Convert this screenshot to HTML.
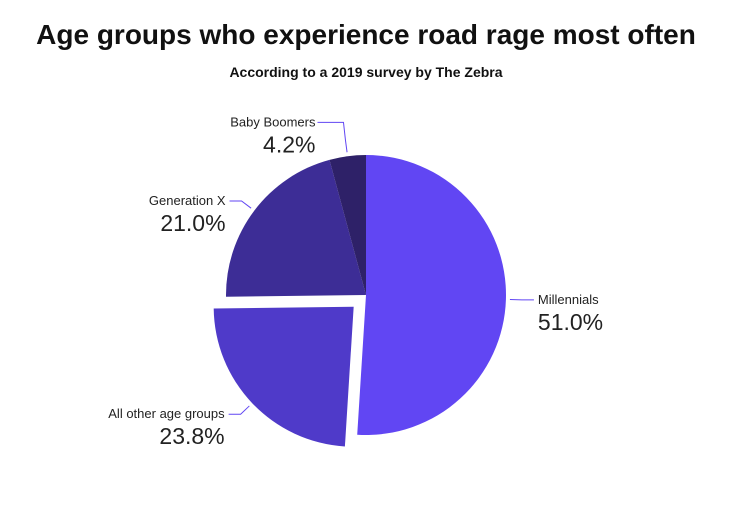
<!DOCTYPE html>
<html><head><meta charset="utf-8"><style>
body{margin:0;background:#fff;width:748px;height:508px;overflow:hidden;font-family:"Liberation Sans",sans-serif}
</style></head><body>
<svg width="748" height="508">
<text x="366" y="44" text-anchor="middle" font-size="28" font-weight="bold" fill="#111">Age groups who experience road rage most often</text>
<text x="366" y="77" text-anchor="middle" font-size="14" font-weight="bold" fill="#111">According to a 2019 survey by The Zebra</text>
<g id="pie"></g>
</svg>
<script>
const categories=["Millennials","All other age groups","Generation X","Baby Boomers"];
const values=[51.0,23.8,21.0,4.2];
const labels=["51.0%","23.8%","21.0%","4.2%"];
const colors=["#6146f3","#4f3ac9","#3d2d96","#2e2168"];
const exploded=[false,true,false,false];
const cx=366,cy=295,r=140,ex=17;
const g=document.getElementById('pie');
const ns="http://www.w3.org/2000/svg";
const total=values.reduce((a,b)=>a+b,0);
function pt(a,rad,ox,oy){return [ox+rad*Math.sin(a),oy-rad*Math.cos(a)];}
let start=0;
values.forEach((v,i)=>{
  const sweep=v/total*2*Math.PI, end=start+sweep, mid=start+sweep/2;
  let ox=cx,oy=cy;
  if(exploded[i]){ox+=ex*Math.sin(mid);oy-=ex*Math.cos(mid);}
  const p1=pt(start,r,ox,oy),p2=pt(end,r,ox,oy);
  const path=document.createElementNS(ns,'path');
  path.setAttribute('d',`M${ox},${oy}L${p1[0]},${p1[1]}A${r},${r} 0 ${sweep>Math.PI?1:0} 1 ${p2[0]},${p2[1]}Z`);
  path.setAttribute('fill',colors[i]);
  
  
  g.appendChild(path);
  // leader line
  const a=pt(mid,r+4,ox,oy), b=pt(mid,r+16,ox,oy);
  const right=Math.sin(mid)>=0;
  const c=[b[0]+(right?12:-12),b[1]];
  if(i===3){c[0]=b[0]-2;c[1]=b[1]-18;}
  const line=document.createElementNS(ns,'polyline');
  let pts=`${a[0]},${a[1]} ${b[0]},${b[1]} ${c[0]},${c[1]}`;
  let tx=c[0]+(right?4:-4), ty=c[1];
  if(i===3){pts+=` ${c[0]-26},${c[1]}`;tx=c[0]-28;}
  line.setAttribute('points',pts);
  line.setAttribute('fill','none');line.setAttribute('stroke','#6146f3');line.setAttribute('stroke-width','1');
  
  
  g.appendChild(line);
  const anchor=right?'start':'end';
  const t1=document.createElementNS(ns,'text');
  t1.setAttribute('x',tx);t1.setAttribute('y',ty+4);t1.setAttribute('text-anchor',anchor);
  t1.setAttribute('font-size','13');t1.setAttribute('fill','#222');
  t1.textContent=categories[i];
  
  
  g.appendChild(t1);
  const t2=document.createElementNS(ns,'text');
  t2.setAttribute('x',tx);t2.setAttribute('y',ty+30);t2.setAttribute('text-anchor',anchor);
  t2.setAttribute('font-size','23');t2.setAttribute('fill','#222');
  t2.textContent=labels[i];
  
  
  g.appendChild(t2);
  start=end;
});
</script>
</body></html>
